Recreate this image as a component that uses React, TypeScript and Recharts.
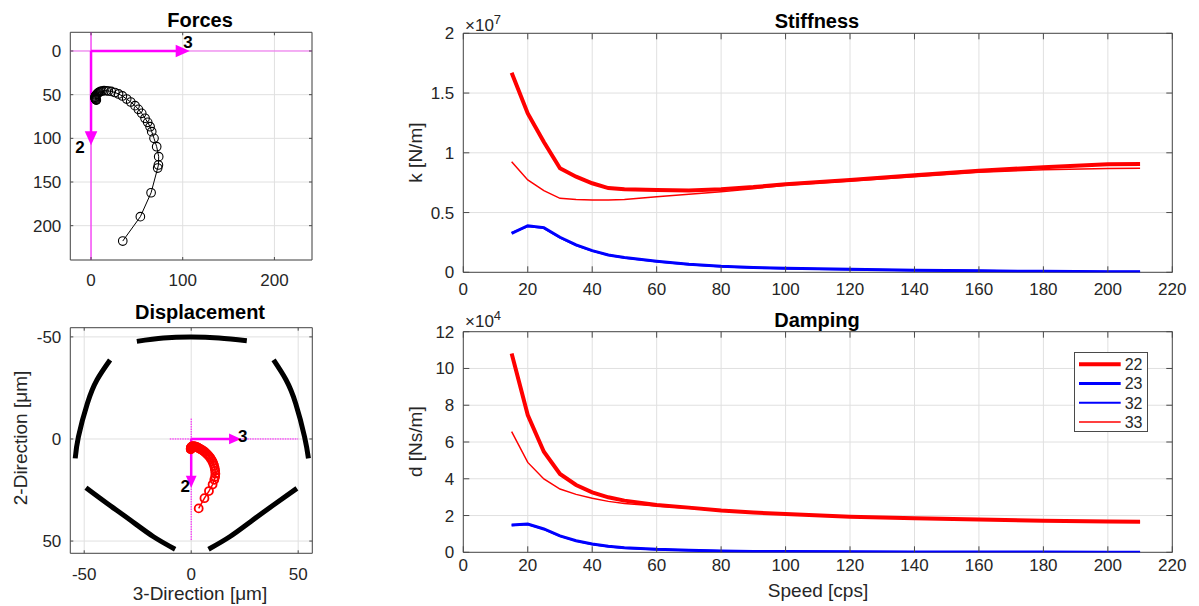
import React from "react";
import {
  CartesianGrid,
  Legend,
  Line,
  LineChart,
  ReferenceArea,
  ReferenceLine,
  Scatter,
  ScatterChart,
  XAxis,
  YAxis,
} from "recharts";

const FONT = '"Liberation Sans", Arial, Helvetica, sans-serif';
const INK = "#262626";
const GRID = "#e0e0e0";
const BOX = "#4a4a4a";
const RED = "#ff0000";
const BLUE = "#0000ff";
const MAGENTA = "#ff00ff";

// speed sweep for the orbit plots (cps)
const sweep = [
  15, 20, 25, 30, 35, 40, 45, 50, 55, 60, 65, 70, 75, 80, 85, 90, 95, 100, 105, 110,
  115, 120, 125, 130, 135, 140, 145, 150, 155, 160, 165, 170, 175, 180, 185, 190, 195, 200, 205, 210,
];
// bearing force, 3-direction / 2-direction
const force3 = [
  34.6, 53.8, 65.5, 72.7, 73.5, 73.8, 71.6, 68.7, 66.2, 64.4, 61.8, 58.9, 55.3, 51.6, 48, 43.3, 38.9, 34.2, 30, 26,
  22, 18.9, 16.5, 14.2, 12, 10.5, 9, 8, 7, 6.2, 5.5, 5, 4.6, 4.4, 4.4, 4.6, 4.9, 5.2, 5.5, 5.8,
];
const force2 = [
  217.6, 189.7, 162.3, 134, 130.5, 121, 109.6, 100, 92.4, 86.7, 81.7, 77, 71.4, 66.8, 62.6, 58.4, 55, 51.5, 49.2, 47.5,
  46.3, 45.8, 45.5, 45.4, 45.8, 46.3, 47, 47.8, 48.8, 49.6, 50.5, 51.4, 52.3, 53, 53.7, 54.3, 54.9, 55.4, 55.8, 56.2,
];
// journal displacement [um]
const disp3 = [
  3.5, 6.2, 8.3, 10, 10.8, 11.2, 11.3, 11.2, 11, 10.7, 10.3, 9.9, 9.4, 8.9, 8.3, 7.7, 7.1, 6.5, 5.9, 5.3,
  4.7, 4.2, 3.7, 3.2, 2.8, 2.4, 2, 1.6, 1.3, 1, 0.7, 0.5, 0.3, 0.1, 0, -0.1, -0.2, -0.2, -0.2, -0.2,
];
const disp2 = [
  34, 29, 25.5, 22.3, 20, 18.5, 17, 15.6, 14.3, 13, 11.9, 10.9, 10, 9.2, 8.4, 7.7, 7.1, 6.5, 6, 5.6,
  5.2, 4.9, 4.6, 4.3, 4.1, 3.9, 3.8, 3.7, 3.6, 3.6, 3.6, 3.7, 3.8, 3.9, 4.1, 4.3, 4.5, 4.7, 4.9, 5.1,
];

// pad outlines [3-dir, 2-dir]
const padTop = [[-25.4, -47.8], [-13, -49.4], [0, -49.9], [13, -49.4], [26, -48.1]];
const padUpperLeft = [[-37.9, -38.7], [-44, -29], [-48.5, -17.5], [-52.7, -1.1], [-54.2, 9.5]];
const padUpperRight = [[38.5, -38.7], [44.3, -29], [48.8, -17.5], [53, -1], [54.8, 9.5]];
const padLowerLeft = [[-49.2, 23.9], [-39.4, 31.5], [-28.5, 39.7], [-17.6, 47.9], [-7.5, 54]];
const padLowerRight = [[8.1, 54], [18, 47.9], [28.8, 39.7], [39.6, 31.5], [49.4, 24.2]];

// direction arrows
const forceArrow3 = [[0, 0], [100, 0]];
const forceArrow2 = [[0, 0], [0, 100]];
const dispArrow3 = [[0, 0], [20.5, 0]];
const dispArrow2 = [[0, 0], [0, 20.9]];
const forceLabels = [{ x: 105.8, y: -10.6, text: "3" }, { x: -12, y: 109.6, text: "2" }];
const dispLabels = [{ x: 24.1, y: -1.6, text: "3" }, { x: -2.8, y: 22.8, text: "2" }];

// rotordynamic coefficients vs speed
const speeds = [15, 20, 25, 30, 35, 40, 45, 50, 60, 70, 80, 90, 100, 120, 140, 160, 180, 200, 210];
// stiffness x1e7 N/m
const k22 = [1.67, 1.33, 1.09, 0.87, 0.8, 0.745, 0.705, 0.695, 0.689, 0.684, 0.695, 0.713, 0.737, 0.772, 0.813, 0.85, 0.879, 0.904, 0.907];
const k23 = [0.326, 0.39, 0.374, 0.293, 0.229, 0.181, 0.145, 0.123, 0.092, 0.067, 0.05, 0.04, 0.033, 0.025, 0.018, 0.012, 0.008, 0.005, 0.004];
const k32 = [0.33, 0.385, 0.37, 0.29, 0.226, 0.179, 0.144, 0.122, 0.091, 0.066, 0.049, 0.039, 0.032, 0.024, 0.017, 0.012, 0.008, 0.005, 0.004];
const k33 = [0.926, 0.773, 0.683, 0.619, 0.61, 0.605, 0.605, 0.61, 0.633, 0.653, 0.675, 0.7, 0.728, 0.765, 0.8, 0.837, 0.858, 0.868, 0.871];
// damping x1e4 Ns/m
const d22 = [10.82, 7.47, 5.47, 4.26, 3.66, 3.26, 2.99, 2.81, 2.57, 2.43, 2.27, 2.16, 2.08, 1.94, 1.85, 1.79, 1.72, 1.67, 1.66];
const d23 = [1.49, 1.54, 1.27, 0.89, 0.63, 0.45, 0.33, 0.25, 0.16, 0.11, 0.07, 0.05, 0.04, 0.03, 0.02, 0.015, 0.01, 0.008, 0.007];
const d32 = [1.47, 1.52, 1.26, 0.88, 0.62, 0.44, 0.32, 0.24, 0.155, 0.105, 0.068, 0.048, 0.038, 0.028, 0.019, 0.014, 0.01, 0.008, 0.007];
const d33 = [6.56, 4.89, 3.99, 3.44, 3.15, 2.94, 2.77, 2.66, 2.52, 2.39, 2.26, 2.15, 2.07, 1.93, 1.84, 1.78, 1.71, 1.66, 1.65];

const seriesNames = ["22", "23", "32", "33"];
const seriesColors = [RED, BLUE, BLUE, RED];
const seriesWidths = [4, 3, 2, 1.5];

const speedTicks = [0, 20, 40, 60, 80, 100, 120, 140, 160, 180, 200, 220];

const pts = (arr: number[][]) => arr.map(([x, y]) => ({ x, y }));
const forceData = force3.map((x, i) => ({ speed: sweep[i], x, y: force2[i] }));
const dispData = disp3.map((x, i) => ({ speed: sweep[i], x, y: disp2[i] }));
const kData = speeds.map((s, i) => ({ speed: s, s22: k22[i], s23: k23[i], s32: k32[i], s33: k33[i] }));
const dData = speeds.map((s, i) => ({ speed: s, s22: d22[i], s23: d23[i], s32: d32[i], s33: d33[i] }));

// ---- layout helpers
type Panel = { left: number; top: number; width: number; height: number; plot: [number, number, number, number] };
type Plot = { left: number; top: number; right: number; bottom: number };

const localPlot = (p: Panel): Plot => ({
  left: p.plot[0] - p.left,
  top: p.plot[1] - p.top,
  right: p.plot[2] - p.left,
  bottom: p.plot[3] - p.top,
});
const marginOf = (p: Panel) => ({ top: p.plot[1] - p.top, right: p.left + p.width - p.plot[2], bottom: 0, left: 0 });
const yWidth = (p: Panel) => p.plot[0] - p.left;
const xHeight = (p: Panel) => p.top + p.height - p.plot[3];

const forcesPanel: Panel = { left: 0, top: 0, width: 330, height: 295, plot: [70.3, 32.3, 312, 260] };
const dispPanel: Panel = { left: 0, top: 300, width: 330, height: 300, plot: [70.3, 327.7, 312.3, 553.3] };
const kPanel: Panel = { left: 430, top: 0, width: 769, height: 300, plot: [463.3, 33.3, 1172.3, 272.3] };
const dPanel: Panel = { left: 430, top: 300, width: 769, height: 306, plot: [463.3, 331.7, 1172.3, 552.3] };

const xTick = (plot: Plot, dy: number, len: number) => (p: any) => (
  <g>
    <line x1={p.x} x2={p.x} y1={plot.bottom} y2={plot.bottom - len} stroke={BOX} />
    <line x1={p.x} x2={p.x} y1={plot.top} y2={plot.top + len} stroke={BOX} />
    <text x={p.x} y={plot.bottom + dy} textAnchor="middle" fontSize={17} fontFamily={FONT} fill={INK}>
      {String(p.payload.value)}
    </text>
  </g>
);
const yTick = (plot: Plot, len: number) => (p: any) => (
  <g>
    <line x1={plot.left} x2={plot.left + len} y1={p.y} y2={p.y} stroke={BOX} />
    <line x1={plot.right} x2={plot.right - len} y1={p.y} y2={p.y} stroke={BOX} />
    <text x={plot.left - 9} y={p.y + 6} textAnchor="end" fontSize={17} fontFamily={FONT} fill={INK}>
      {String(p.payload.value)}
    </text>
  </g>
);

const noDot = () => <g />;
const openCircle = (color: string, r: number, w: number) => (p: any) => (
  <circle cx={p.cx} cy={p.cy} r={r} fill="none" stroke={color} strokeWidth={w} />
);
const headRight = (s: number) => (p: any) => (
  <polygon points={`${p.cx - s},${p.cy - s * 0.9} ${p.cx + s},${p.cy} ${p.cx - s},${p.cy + s * 0.9}`} fill={MAGENTA} />
);
const headDown = (s: number) => (p: any) => (
  <polygon points={`${p.cx - s * 0.9},${p.cy - s} ${p.cx + s * 0.9},${p.cy - s} ${p.cx},${p.cy + s}`} fill={MAGENTA} />
);
const tagText = (p: any) => (
  <text x={p.cx} y={p.cy + 6} textAnchor="middle" fontSize={17} fontWeight="bold" fontFamily={FONT} fill="#000">
    {p.payload.text}
  </text>
);

const Box = ({ x, y }: { x: number[]; y: number[] }) => (
  <ReferenceArea x1={x[0]} x2={x[1]} y1={y[0]} y2={y[1]} fill="none" stroke={BOX} strokeWidth={1} ifOverflow="visible" />
);

const ForcesChart = () => {
  const plot = localPlot(forcesPanel);
  const xd = [-22.6, 241];
  const yd = [-21.4, 239.3];
  return (
    <ScatterChart width={forcesPanel.width} height={forcesPanel.height} margin={marginOf(forcesPanel)}>
      <CartesianGrid stroke={GRID} />
      <XAxis type="number" dataKey="x" domain={xd} allowDataOverflow ticks={[0, 100, 200]} interval={0}
        height={xHeight(forcesPanel)} axisLine={false} tickLine={false} tickSize={0} tick={xTick(plot, 26, 3)} />
      <YAxis type="number" dataKey="y" domain={yd} allowDataOverflow reversed ticks={[0, 50, 100, 150, 200]} interval={0}
        width={yWidth(forcesPanel)} axisLine={false} tickLine={false} tickSize={0} tick={yTick(plot, 3)} />
      <ReferenceLine x={0} stroke={MAGENTA} strokeWidth={1} />
      <ReferenceLine y={0} stroke={MAGENTA} strokeWidth={1} strokeOpacity={0.55} />
      <Scatter data={pts(forceArrow3)} line={{ stroke: MAGENTA, strokeWidth: 2.5 }} shape={noDot} isAnimationActive={false} />
      <Scatter data={pts(forceArrow2)} line={{ stroke: MAGENTA, strokeWidth: 2.5 }} shape={noDot} isAnimationActive={false} />
      <Scatter data={pts(forceArrow3.slice(1))} shape={headRight(7)} isAnimationActive={false} />
      <Scatter data={pts(forceArrow2.slice(1))} shape={headDown(7)} isAnimationActive={false} />
      <Scatter data={forceLabels} shape={tagText} isAnimationActive={false} />
      <Scatter data={forceData} line={{ stroke: "#000", strokeWidth: 1 }} shape={openCircle("#000", 4.3, 1.1)} isAnimationActive={false} />
      {Box({ x: xd, y: yd })}
    </ScatterChart>
  );
};

const DispChart = () => {
  const plot = localPlot(dispPanel);
  const xd = [-56.5, 56.6];
  const yd = [-54.5, 56];
  const pads = [padTop, padUpperLeft, padUpperRight, padLowerLeft, padLowerRight];
  return (
    <ScatterChart width={dispPanel.width} height={dispPanel.height} margin={marginOf(dispPanel)}>
      <CartesianGrid stroke={GRID} />
      <XAxis type="number" dataKey="x" domain={xd} allowDataOverflow ticks={[-50, 0, 50]} interval={0}
        height={xHeight(dispPanel)} axisLine={false} tickLine={false} tickSize={0} tick={xTick(plot, 26.5, 3)} />
      <YAxis type="number" dataKey="y" domain={yd} allowDataOverflow reversed ticks={[-50, 0, 50]} interval={0}
        width={yWidth(dispPanel)} axisLine={false} tickLine={false} tickSize={0} tick={yTick(plot, 3)} />
      {pads.map((pad, i) => (
        <Scatter key={i} data={pts(pad)} line={{ stroke: "#000", strokeWidth: 5 }} lineJointType="natural"
          shape={noDot} isAnimationActive={false} />
      ))}
      <ReferenceLine segment={[{ x: 0, y: -10 }, { x: 0, y: 50 }]} stroke={MAGENTA} strokeWidth={1} strokeDasharray="1.5 1" />
      <ReferenceLine segment={[{ x: -10, y: 0 }, { x: 50, y: 0 }]} stroke={MAGENTA} strokeWidth={1} strokeDasharray="1.5 1" />
      <Scatter data={pts(dispArrow3)} line={{ stroke: MAGENTA, strokeWidth: 2.5 }} shape={noDot} isAnimationActive={false} />
      <Scatter data={pts(dispArrow2)} line={{ stroke: MAGENTA, strokeWidth: 2.5 }} shape={noDot} isAnimationActive={false} />
      <Scatter data={pts(dispArrow3.slice(1))} shape={headRight(6)} isAnimationActive={false} />
      <Scatter data={pts(dispArrow2.slice(1))} shape={headDown(6)} isAnimationActive={false} />
      <Scatter data={dispData} line={{ stroke: RED, strokeWidth: 1.5 }} shape={openCircle(RED, 4, 1.8)} isAnimationActive={false} />
      <Scatter data={dispLabels} shape={tagText} isAnimationActive={false} />
      {Box({ x: xd, y: yd })}
    </ScatterChart>
  );
};

const legendContent = () => (
  <svg width={74} height={80} style={{ display: "block" }}>
    <rect x={0.5} y={0.5} width={73} height={79} fill="#fff" stroke={BOX} />
    {seriesNames.map((n, i) => (
      <g key={n}>
        <line x1={5} x2={46.7} y1={12.3 + i * 19.2} y2={12.3 + i * 19.2} stroke={seriesColors[i]} strokeWidth={seriesWidths[i]} />
        <text x={50.7} y={12.3 + i * 19.2 + 5.8} fontSize={16} fontFamily={FONT} fill={INK}>{n}</text>
      </g>
    ))}
  </svg>
);

const CoefChart = ({ panel, data, yd, yTicks, xDy, legend }: {
  panel: Panel; data: any[]; yd: number[]; yTicks: number[]; xDy: number; legend?: boolean;
}) => {
  const plot = localPlot(panel);
  return (
    <LineChart width={panel.width} height={panel.height} data={data} margin={marginOf(panel)}>
      <CartesianGrid stroke={GRID} />
      <XAxis type="number" dataKey="speed" domain={[0, 220]} allowDataOverflow ticks={speedTicks} interval={0}
        height={xHeight(panel)} axisLine={false} tickLine={false} tickSize={0} tick={xTick(plot, xDy, 6)} />
      <YAxis type="number" domain={yd} allowDataOverflow ticks={yTicks} interval={0}
        width={yWidth(panel)} axisLine={false} tickLine={false} tickSize={0} tick={yTick(plot, 6)} />
      {seriesNames.map((n, i) => (
        <Line key={n} type="linear" dataKey={`s${n}`} name={n} stroke={seriesColors[i]} strokeWidth={seriesWidths[i]}
          dot={false} activeDot={false} isAnimationActive={false} />
      ))}
      {Box({ x: [0, 220], y: yd })}
      {legend && (
        <Legend layout="vertical" align="center" verticalAlign="middle" content={legendContent}
          wrapperStyle={{ left: 1074.3 - panel.left, top: 351.7 - panel.top, width: 74, height: 80 }} />
      )}
    </LineChart>
  );
};

const place = (p: Panel): React.CSSProperties => ({ position: "absolute", left: p.left, top: p.top });

export default function App() {
  const title = { fontSize: 20, fontWeight: "bold" as const, fontFamily: FONT, fill: "#000", textAnchor: "middle" as const };
  const label = { fontSize: 19, fontFamily: FONT, fill: INK, textAnchor: "middle" as const };
  return (
    <div style={{ position: "fixed", left: 0, top: 0, width: 1199, height: 606, background: "#fff", overflow: "hidden" }}>
      <div style={place(forcesPanel)}><ForcesChart /></div>
      <div style={place(dispPanel)}><DispChart /></div>
      <div style={place(kPanel)}>
        <CoefChart panel={kPanel} data={kData} yd={[0, 2]} yTicks={[0, 0.5, 1, 1.5, 2]} xDy={22.7} />
      </div>
      <div style={place(dPanel)}>
        <CoefChart panel={dPanel} data={dData} yd={[0, 12]} yTicks={[0, 2, 4, 6, 8, 10, 12]} xDy={18.5} legend />
      </div>
      <svg width={1199} height={606} style={{ position: "absolute", left: 0, top: 0, pointerEvents: "none" }}>
        <text x={200} y={26.7} {...title}>Forces</text>
        <text x={200} y={318.5} {...title}>Displacement</text>
        <text x={817} y={28} {...title}>Stiffness</text>
        <text x={817} y={326.5} {...title}>Damping</text>
        <text x={465} y={31} fontSize={17} fontFamily={FONT} fill={INK}>
          ×10<tspan fontSize={13} dy={-7}>7</tspan>
        </text>
        <text x={465} y={327} fontSize={17} fontFamily={FONT} fill={INK}>
          ×10<tspan fontSize={13} dy={-7}>4</tspan>
        </text>
        <text transform="translate(422,152.6) rotate(-90)" {...label}>k [N/m]</text>
        <text transform="translate(422,441.7) rotate(-90)" {...label}>d [Ns/m]</text>
        <text x={818} y={597} {...label}>Speed [cps]</text>
        <text transform="translate(27,438) rotate(-90)" {...label}>2-Direction [μm]</text>
        <text x={200} y={600} {...label}>3-Direction [μm]</text>
      </svg>
    </div>
  );
}
